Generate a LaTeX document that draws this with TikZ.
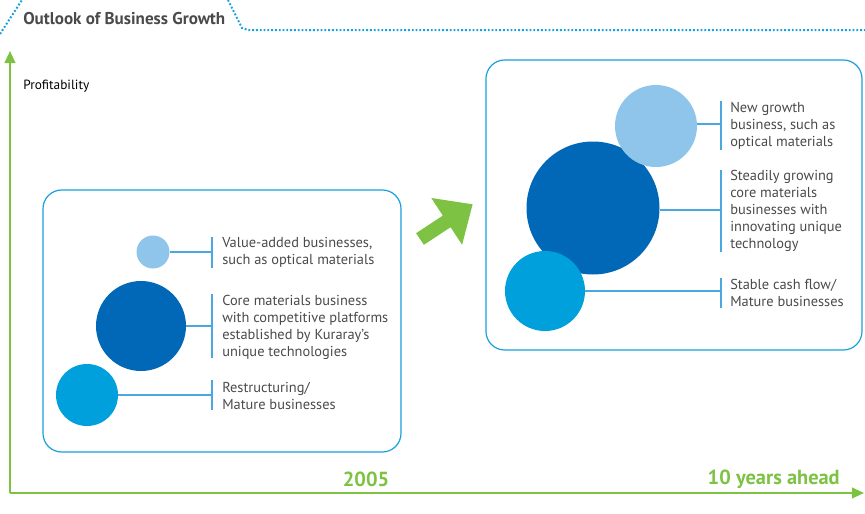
\documentclass[tikz,border=0pt]{standalone}
\usepackage{fontspec}
\setmainfont{PT Sans}
\usetikzlibrary{arrows.meta}
\definecolor{boxblue}{HTML}{1AA0DC}
\definecolor{lightb}{HTML}{8FC4EB}
\definecolor{darkb}{HTML}{0068B6}
\definecolor{midb}{HTML}{00A0DC}
\definecolor{linkb}{HTML}{4BA7DF}
\definecolor{grn}{HTML}{7DC242}
\definecolor{txt}{HTML}{4A4A4A}
\tikzset{
  dotline/.style={boxblue,line width=1.5pt,dash pattern=on 1.4pt off 1.45pt},
  panel/.style={draw=boxblue,line width=0.9pt,rounded corners=14pt},
  bubble/.style={circle,inner sep=0pt,draw=none},
  link/.style={linkb,line width=0.9pt},
  desc/.style={anchor=west,align=left,text=txt,font=\fontsize{10.8}{12.75}\selectfont,inner sep=0pt},
  axis/.style={grn,line width=1.5pt,-{Triangle[length=9pt,width=8pt]}},
  year/.style={text=grn,font=\bfseries\fontsize{15.3}{18}\selectfont,inner sep=0pt}
}
\begin{document}
\begin{tikzpicture}[x=0.75pt,y=-0.75pt]
\useasboundingbox (0,0) rectangle (865,514);
% tab outline
\draw[dotline] (0,34) -- (22,0);
\draw[dotline] (228,0) -- (242,28) -- (248,30) -- (865,30);
\node[anchor=west,text=txt,font=\bfseries\fontsize{12.8}{14}\selectfont,inner sep=0pt] (title) at (23,19) {Outlook of Business Growth};
% axes
\coordinate (origin) at (10,493);
\coordinate (ytop) at (10,51);
\coordinate (xend) at (864,493);
\draw[axis] (origin) -- (ytop);
\draw[axis] (origin) -- (xend);
\node[anchor=west,text=black,font=\fontsize{10}{12}\selectfont,inner sep=0pt] (prof) at (23,86) {Profitability};
\node[year] (y2005) at (366,479) {2005};
\node[year,anchor=east] (y10) at (840,479) {10 years ahead};
% panels
\draw[panel] (43,190) rectangle (401,452);
\draw[panel] (486,60) rectangle (862,350);
% green arrow
\fill[grn] (416.1,233.2) -- (442.8,215.6) -- (431.3,198.0) -- (472.6,204.3) -- (462.1,244.8) -- (450.6,227.2) -- (423.9,244.8) -- cycle;
% left panel bubbles
\node[bubble,fill=lightb,minimum size=33pt*0.75] (l1) at (153,252) {};
\node[bubble,fill=darkb,minimum size=90pt*0.75] (l2) at (141,326) {};
\node[bubble,fill=midb,minimum size=62pt*0.75] (l3) at (87,395) {};
\coordinate (lb1) at (212,252);
\coordinate (lb2) at (212,326);
\coordinate (lb3) at (212,395);
\draw[link] (l1.east) -- (lb1);
\draw[link] (l2.east) -- (lb2);
\draw[link] (l3.east) -- (lb3);
\draw[link] (212,237) -- (212,268);
\draw[link] (212,294) -- (212,358);
\draw[link] (212,380) -- (212,410);
\node[desc] (lt1) at (222,252.5) {Value-added businesses,\\such as optical materials};
\node[desc] (lt2) at (222,327) {Core materials business\\with competitive platforms\\established by Kuraray’s\\unique technologies};
\node[desc] (lt3) at (222,395.5) {Restructuring/\\Mature businesses};
% right panel bubbles
\node[bubble,fill=darkb,minimum size=133pt*0.75] (r2) at (593,208) {};
\node[bubble,fill=lightb,minimum size=82pt*0.75] (r1) at (656,126) {};
\node[bubble,fill=midb,minimum size=80pt*0.75] (r3) at (545,291) {};
\coordinate (rb1) at (721,124);
\coordinate (rb2) at (721,210);
\coordinate (rb3) at (721,291);
\draw[link] (r1.east |- rb1) -- (rb1);
\draw[link] (r2.east |- rb2) -- (rb2);
\draw[link] (r3.east) -- (rb3);
\draw[link] (721,101) -- (721,150);
\draw[link] (721,170) -- (721,252);
\draw[link] (721,278) -- (721,308);
\node[desc] (rt1) at (730,125.5) {New growth\\business, such as\\optical materials};
\node[desc] (rt2) at (730,211) {Steadily growing\\core materials\\businesses with\\innovating unique\\technology};
\node[desc] (rt3) at (730,292.5) {Stable cash flow/\\Mature businesses};
\end{tikzpicture}
\end{document}
